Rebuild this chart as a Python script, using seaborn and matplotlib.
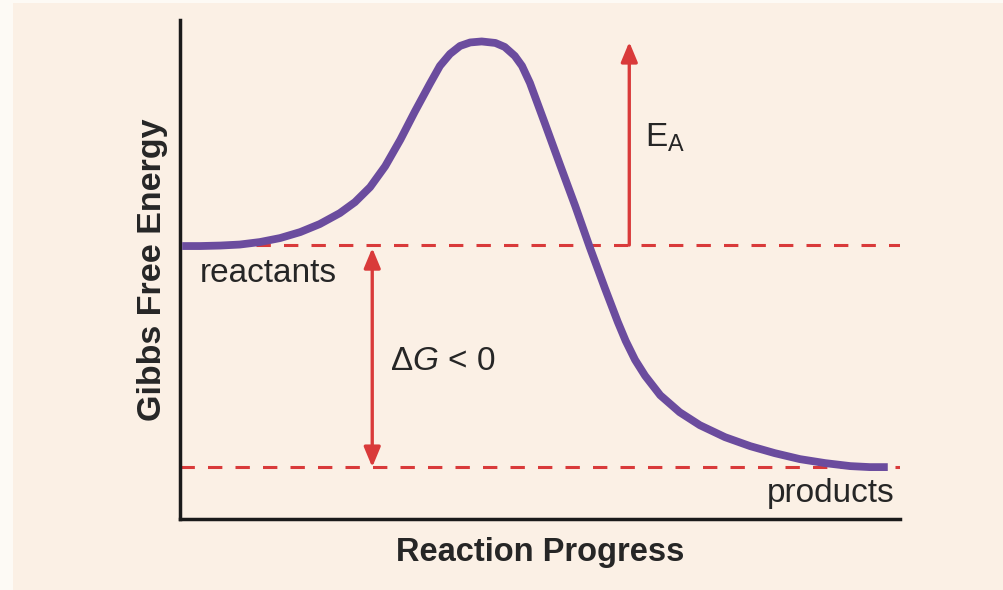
import matplotlib
matplotlib.use("Agg")
import matplotlib.pyplot as plt
import seaborn as sns
import pandas as pd
from matplotlib.patches import Rectangle

# Energy profile (x = reaction progress, y = free energy)
progress = [0.3, 2.8, 5.6, 8.3, 11.1, 13.9, 16.7, 19.4, 22.2, 24.3, 26.4, 28.5, 30.6,
            32.6, 34.7, 36.1, 37.5, 38.9, 40.3, 41.9, 43.8, 45.1, 46.5, 47.5, 48.6,
            50.7, 52.8, 54.9, 56.9, 59.0, 60.8, 61.9, 63.2, 64.6, 66.7, 69.4, 72.2,
            75.7, 79.2, 82.6, 86.1, 89.6, 93.1, 95.8, 98.3]
energy = [54.7, 54.7, 54.8, 55.0, 55.5, 56.3, 57.5, 59.1, 61.3, 63.5, 66.5, 70.7, 76.0,
          81.6, 87.2, 90.8, 93.2, 94.8, 95.5, 95.7, 95.4, 94.6, 92.8, 90.8, 87.4,
          79.2, 70.9, 62.7, 54.5, 46.3, 39.5, 35.7, 31.9, 28.7, 24.8, 21.4, 18.8,
          16.4, 14.6, 13.2, 12.0, 11.2, 10.6, 10.4, 10.4]

reactant_level = 54.9
product_level = 10.4
peak_level = 95.6
ea_x = 62.4
dg_x = 26.7

curve = pd.DataFrame({"progress": progress, "energy": energy})

purple = "#6b4c9e"
red = "#d93a3a"
peach = "#fbf0e5"

sns.set_style("white")
plt.rcParams["font.family"] = ["Liberation Sans", "DejaVu Sans"]
plt.rcParams["mathtext.fontset"] = "custom"
plt.rcParams["mathtext.rm"] = "Liberation Sans"
plt.rcParams["mathtext.it"] = "Liberation Sans:italic"

fig = plt.figure(figsize=(10.04, 5.90), dpi=100, facecolor="#fdfaf5")
fig.patches.append(Rectangle((13 / 1004, 0), 1, 587 / 590, transform=fig.transFigure,
                             facecolor=peach, edgecolor="none", zorder=-10))
ax = fig.add_axes([180 / 1004, 71 / 590, 720 / 1004, 499 / 590])
ax.set_facecolor(peach)

# dashed energy levels
dash = (0, (4.7, 4.3))
ax.plot([10.5, 100], [reactant_level, reactant_level], color=red, lw=2.2, ls=dash, zorder=2)
ax.plot([0, 100], [product_level, product_level], color=red, lw=2.2, ls=dash, zorder=2)

sns.lineplot(data=curve, x="progress", y="energy", sort=False, color=purple,
             linewidth=5.6, ax=ax, zorder=3, solid_capstyle="butt",
             solid_joinstyle="round")

# activation energy arrow
ax.annotate("", xy=(ea_x, peak_level), xytext=(ea_x, reactant_level),
            arrowprops=dict(arrowstyle="-|>,head_length=1.2,head_width=0.5",
                            color=red, lw=2.4, shrinkA=0, shrinkB=0))
# delta G arrow
ax.annotate("", xy=(dg_x, product_level), xytext=(dg_x, reactant_level - 0.6),
            arrowprops=dict(arrowstyle="<|-|>,head_length=1.2,head_width=0.5",
                            color=red, lw=2.4, shrinkA=0, shrinkB=0))

ax.text(2.8, 49.1, "reactants", fontsize=24, va="center", ha="left")
ax.text(99.2, 5.2, "products", fontsize=24, va="center", ha="right")
ax.text(29.2, 31.5, r"$\Delta\mathit{G}$ < 0", fontsize=24, va="center", ha="left")
ax.text(64.6, 76.4, r"E$_\mathregular{A}$", fontsize=24, va="center", ha="left")

ax.set_xlim(0, 100)
ax.set_ylim(0, 100)
ax.set_xticks([])
ax.set_yticks([])
sns.despine(ax=ax)
ax.spines["left"].set_linewidth(2.5)
ax.spines["bottom"].set_linewidth(2.5)
ax.spines["left"].set_color("#1a1a1a")
ax.spines["bottom"].set_color("#1a1a1a")
ax.set_xlabel("Reaction Progress", fontsize=23.5, fontweight="bold", labelpad=13)
ax.set_ylabel("Gibbs Free Energy", fontsize=24.5, fontweight="bold", labelpad=9)

fig.savefig("out.png", dpi=100, facecolor=fig.get_facecolor())
